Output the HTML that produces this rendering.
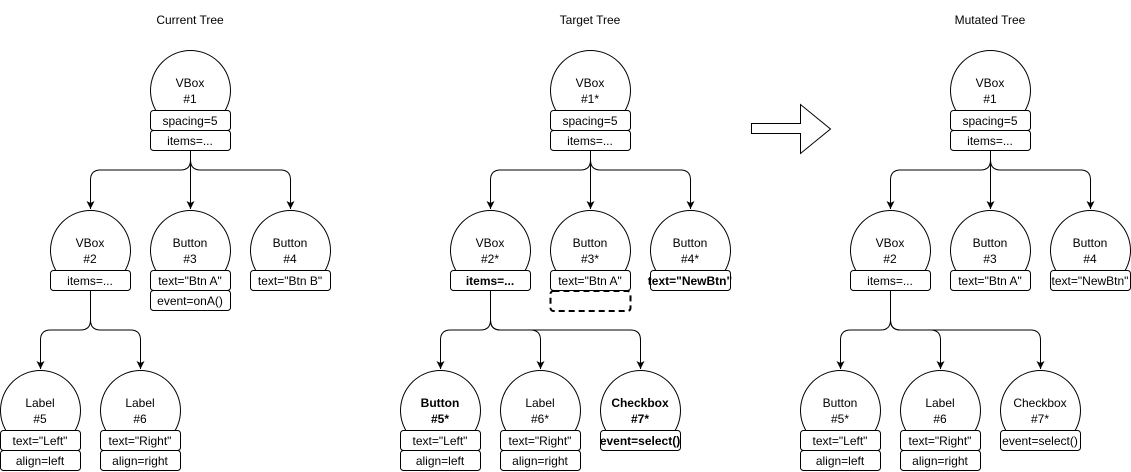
<!DOCTYPE html>
<html><head><meta charset="utf-8"><style>
html,body{margin:0;padding:0;background:#fff;}
svg{display:block;font-family:"Liberation Sans",Arial,sans-serif;font-size:12px;}
</style></head><body>
<svg width="1131" height="472" viewBox="0 0 1131 472" xmlns="http://www.w3.org/2000/svg">
<defs>
<marker id="a" markerWidth="10" markerHeight="10" refX="8" refY="5" orient="auto" markerUnits="userSpaceOnUse">
<path d="M0,1 L8,5 L0,9 L2,5 Z" fill="#000"/>
</marker>
</defs>
<g fill="none" stroke="#000" stroke-width="1">
<!-- tree 1 edges -->
<path d="M190.5 150 V160 Q190.5 170 180.5 170 H100.5 Q90.5 170 90.5 180 V209" marker-end="url(#a)"/>
<path d="M190.5 150 V209" marker-end="url(#a)"/>
<path d="M190.5 150 V160 Q190.5 170 200.5 170 H280.5 Q290.5 170 290.5 180 V209" marker-end="url(#a)"/>
<path d="M90.5 290 V320 Q90.5 330 80.5 330 H50.5 Q40.5 330 40.5 340 V369" marker-end="url(#a)"/>
<path d="M90.5 290 V320 Q90.5 330 100.5 330 H130.5 Q140.5 330 140.5 340 V369" marker-end="url(#a)"/>
<!-- tree 2 edges -->
<path d="M590.5 150 V160 Q590.5 170 580.5 170 H500.5 Q490.5 170 490.5 180 V209" marker-end="url(#a)"/>
<path d="M590.5 150 V209" marker-end="url(#a)"/>
<path d="M590.5 150 V160 Q590.5 170 600.5 170 H680.5 Q690.5 170 690.5 180 V209" marker-end="url(#a)"/>
<path d="M490.5 290 V320 Q490.5 330 480.5 330 H450.5 Q440.5 330 440.5 340 V369" marker-end="url(#a)"/>
<path d="M490.5 290 V369" transform="translate(50,0)" stroke="none"/>
<path d="M490.5 290 V320 Q490.5 330 500.5 330 H530.5 Q540.5 330 540.5 340 V369" marker-end="url(#a)"/>
<path d="M490.5 290 V320 Q490.5 330 500.5 330 H630.5 Q640.5 330 640.5 340 V369" marker-end="url(#a)"/>
<!-- tree 3 edges -->
<path d="M990.5 150 V160 Q990.5 170 980.5 170 H900.5 Q890.5 170 890.5 180 V209" marker-end="url(#a)"/>
<path d="M990.5 150 V209" marker-end="url(#a)"/>
<path d="M990.5 150 V160 Q990.5 170 1000.5 170 H1080.5 Q1090.5 170 1090.5 180 V209" marker-end="url(#a)"/>
<path d="M890.5 290 V320 Q890.5 330 880.5 330 H850.5 Q840.5 330 840.5 340 V369" marker-end="url(#a)"/>
<path d="M890.5 290 V320 Q890.5 330 900.5 330 H930.5 Q940.5 330 940.5 340 V369" marker-end="url(#a)"/>
<path d="M890.5 290 V320 Q890.5 330 900.5 330 H1030.5 Q1040.5 330 1040.5 340 V369" marker-end="url(#a)"/>
</g>

<!-- circles -->
<g fill="#fff" stroke="#000">
<circle cx="190.5" cy="90.5" r="40"/><circle cx="90.5" cy="250.5" r="40"/><circle cx="190.5" cy="250.5" r="40"/><circle cx="290.5" cy="250.5" r="40"/><circle cx="40.5" cy="410.5" r="40"/><circle cx="140.5" cy="410.5" r="40"/>
<circle cx="590.5" cy="90.5" r="40"/><circle cx="490.5" cy="250.5" r="40"/><circle cx="590.5" cy="250.5" r="40"/><circle cx="690.5" cy="250.5" r="40"/><circle cx="440.5" cy="410.5" r="40"/><circle cx="540.5" cy="410.5" r="40"/><circle cx="640.5" cy="410.5" r="40"/>
<circle cx="990.5" cy="90.5" r="40"/><circle cx="890.5" cy="250.5" r="40"/><circle cx="990.5" cy="250.5" r="40"/><circle cx="1090.5" cy="250.5" r="40"/><circle cx="840.5" cy="410.5" r="40"/><circle cx="940.5" cy="410.5" r="40"/><circle cx="1040.5" cy="410.5" r="40"/>
</g>
<!-- boxes -->
<g fill="#fff" stroke="#000">
<rect x="150.5" y="110.5" width="80" height="20" rx="3"/><rect x="150.5" y="130.5" width="80" height="20" rx="3"/>
<rect x="50.5" y="270.5" width="80" height="20" rx="3"/>
<rect x="150.5" y="270.5" width="80" height="20" rx="3"/><rect x="150.5" y="290.5" width="80" height="20" rx="3"/>
<rect x="250.5" y="270.5" width="80" height="20" rx="3"/>
<rect x="0.5" y="430.5" width="80" height="20" rx="3"/><rect x="0.5" y="450.5" width="80" height="20" rx="3"/>
<rect x="100.5" y="430.5" width="80" height="20" rx="3"/><rect x="100.5" y="450.5" width="80" height="20" rx="3"/>

<rect x="550.5" y="110.5" width="80" height="20" rx="3"/><rect x="550.5" y="130.5" width="80" height="20" rx="3"/>
<rect x="450.5" y="270.5" width="80" height="20" rx="3"/>
<rect x="550.5" y="270.5" width="80" height="20" rx="3"/>
<rect x="650.5" y="270.5" width="80" height="20" rx="3"/>
<rect x="400.5" y="430.5" width="80" height="20" rx="3"/><rect x="400.5" y="450.5" width="80" height="20" rx="3"/>
<rect x="500.5" y="430.5" width="80" height="20" rx="3"/><rect x="500.5" y="450.5" width="80" height="20" rx="3"/>
<rect x="600.5" y="430.5" width="80" height="20" rx="3"/>

<rect x="950.5" y="110.5" width="80" height="20" rx="3"/><rect x="950.5" y="130.5" width="80" height="20" rx="3"/>
<rect x="850.5" y="270.5" width="80" height="20" rx="3"/>
<rect x="950.5" y="270.5" width="80" height="20" rx="3"/>
<rect x="1050.5" y="270.5" width="80" height="20" rx="3"/>
<rect x="800.5" y="430.5" width="80" height="20" rx="3"/><rect x="800.5" y="450.5" width="80" height="20" rx="3"/>
<rect x="900.5" y="430.5" width="80" height="20" rx="3"/><rect x="900.5" y="450.5" width="80" height="20" rx="3"/>
<rect x="1000.5" y="430.5" width="80" height="20" rx="3"/>
</g>
<rect x="550.5" y="291" width="80" height="20" rx="3" fill="none" stroke="#000" stroke-width="2" stroke-dasharray="6,4"/>

<!-- big arrow -->
<path d="M751.5 123.5 H800.5 V104.5 L830.5 129 L800.5 153.5 V133.5 H751.5 Z" fill="#fff" stroke="#000"/>

<!-- text -->
<g text-anchor="middle" fill="#000">
<text x="190" y="24">Current Tree</text>
<text x="590" y="24">Target Tree</text>
<text x="990" y="24">Mutated Tree</text>

<text x="190" y="87">VBox</text><text x="190" y="103">#1</text>
<text x="190" y="125">spacing=5</text><text x="190" y="145">items=...</text>
<text x="90" y="247">VBox</text><text x="90" y="263">#2</text><text x="90" y="285">items=...</text>
<text x="190" y="247">Button</text><text x="190" y="263">#3</text><text x="190" y="285">text="Btn A"</text><text x="190" y="305">event=onA()</text>
<text x="290" y="247">Button</text><text x="290" y="263">#4</text><text x="290" y="285">text="Btn B"</text>
<text x="40" y="407">Label</text><text x="40" y="423">#5</text><text x="40" y="445">text="Left"</text><text x="40" y="465">align=left</text>
<text x="140" y="407">Label</text><text x="140" y="423">#6</text><text x="140" y="445">text="Right"</text><text x="140" y="465">align=right</text>

<text x="590" y="87">VBox</text><text x="590" y="103">#1*</text>
<text x="590" y="125">spacing=5</text><text x="590" y="145">items=...</text>
<text x="490" y="247">VBox</text><text x="490" y="263">#2*</text><text x="490" y="285" font-weight="bold">items=...</text>
<text x="590" y="247">Button</text><text x="590" y="263">#3*</text><text x="590" y="285">text="Btn A"</text>
<text x="690" y="247">Button</text><text x="690" y="263">#4*</text><text x="690" y="285" font-weight="bold">text="NewBtn"</text>
<text x="440" y="407" font-weight="bold">Button</text><text x="440" y="423" font-weight="bold">#5*</text><text x="440" y="445">text="Left"</text><text x="440" y="465">align=left</text>
<text x="540" y="407">Label</text><text x="540" y="423">#6*</text><text x="540" y="445">text="Right"</text><text x="540" y="465">align=right</text>
<text x="640" y="407" font-weight="bold">Checkbox</text><text x="640" y="423" font-weight="bold">#7*</text><text x="640" y="445" font-weight="bold">event=select()</text>

<text x="990" y="87">VBox</text><text x="990" y="103">#1</text>
<text x="990" y="125">spacing=5</text><text x="990" y="145">items=...</text>
<text x="890" y="247">VBox</text><text x="890" y="263">#2</text><text x="890" y="285">items=...</text>
<text x="990" y="247">Button</text><text x="990" y="263">#3</text><text x="990" y="285">text="Btn A"</text>
<text x="1090" y="247">Button</text><text x="1090" y="263">#4</text><text x="1090" y="285">text="NewBtn"</text>
<text x="840" y="407">Button</text><text x="840" y="423">#5*</text><text x="840" y="445">text="Left"</text><text x="840" y="465">align=left</text>
<text x="940" y="407">Label</text><text x="940" y="423">#6</text><text x="940" y="445">text="Right"</text><text x="940" y="465">align=right</text>
<text x="1040" y="407">Checkbox</text><text x="1040" y="423">#7*</text><text x="1040" y="445">event=select()</text>
</g>
</svg>
</body></html>
